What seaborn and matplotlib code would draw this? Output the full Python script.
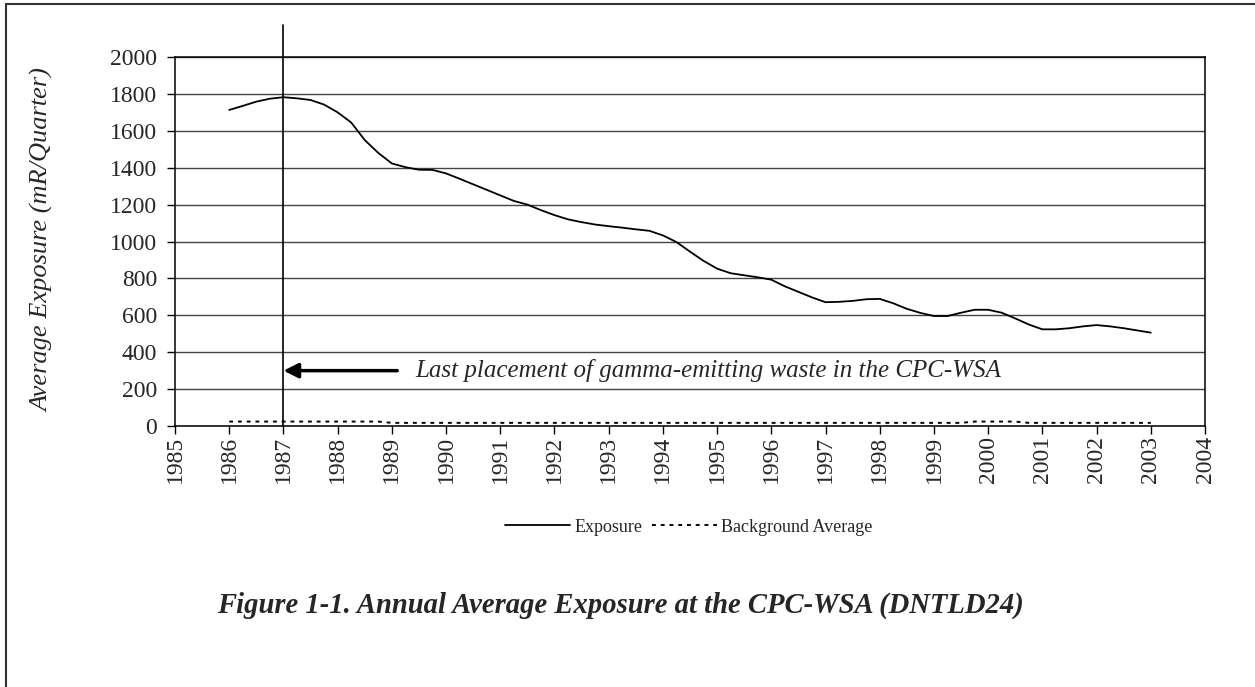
import numpy as np
import pandas as pd
import matplotlib
matplotlib.use("Agg")
import matplotlib.pyplot as plt
import seaborn as sns
from matplotlib.lines import Line2D

years = [1986.00, 1986.25, 1986.50, 1986.75, 1987.00, 1987.25, 1987.50, 1987.75,
         1988.00, 1988.25, 1988.50, 1988.75, 1989.00, 1989.25, 1989.50, 1989.75,
         1990.00, 1990.25, 1990.50, 1990.75, 1991.00, 1991.25, 1991.50, 1991.75,
         1992.00, 1992.25, 1992.50, 1992.75, 1993.00, 1993.25, 1993.50, 1993.75,
         1994.00, 1994.25, 1994.50, 1994.75, 1995.00, 1995.25, 1995.50, 1995.75,
         1996.00, 1996.25, 1996.50, 1996.75, 1997.00, 1997.25, 1997.50, 1997.75,
         1998.00, 1998.25, 1998.50, 1998.75, 1999.00, 1999.25, 1999.50, 1999.75,
         2000.00, 2000.25, 2000.50, 2000.75, 2001.00, 2001.25, 2001.50, 2001.75,
         2002.00, 2002.25, 2002.50, 2002.75, 2003.00]

exposure = [1713, 1735, 1758, 1774, 1782, 1776, 1767, 1742,
            1700, 1645, 1550, 1480, 1423, 1403, 1389, 1388,
            1369, 1340, 1310, 1280, 1250, 1220, 1200, 1170,
            1143, 1120, 1105, 1092, 1083, 1075, 1066, 1058,
            1033, 997, 945, 895, 853, 828, 817, 806,
            793, 757, 727, 697, 671, 673, 678, 687,
            689, 665, 635, 613, 596, 596, 614, 630,
            630, 614, 583, 550, 524, 524, 530, 540,
            547, 540, 530, 518, 506]

background = [24, 24, 24, 24, 24, 24, 24, 24,
              24, 24, 24, 24, 17, 17, 17, 17,
              17, 17, 17, 17, 17, 17, 17, 17,
              17, 17, 17, 17, 17, 17, 17, 17,
              17, 17, 17, 17, 17, 17, 17, 17,
              17, 17, 17, 17, 17, 17, 17, 17,
              17, 17, 17, 17, 17, 17, 17, 24,
              24, 24, 24, 17, 17, 17, 17, 17,
              17, 17, 17, 17, 17]

x_ticks = list(range(1985, 2005))
y_ticks = list(range(0, 2001, 200))
marker_year = 1987
annotation_text = "Last placement of gamma-emitting waste in the CPC-WSA"
y_label = "Average Exposure (mR/Quarter)"
title_text = "Figure 1-1. Annual Average Exposure at the CPC-WSA (DNTLD24)"

sns.set_theme(style="white")
plt.rcParams['font.family'] = ['Liberation Serif', 'DejaVu Serif']

df = pd.DataFrame({"Year": years, "Exposure": exposure, "Background Average": background})

W, H = 1255, 687
fig = plt.figure(figsize=(W / 100, H / 100), dpi=100)
ax = fig.add_axes([175 / W, 1 - 426 / H, (1205 - 175) / W, (426 - 57) / H])

sns.lineplot(data=df, x="Year", y="Exposure", ax=ax, color="black", lw=1.3, label="Exposure")
sns.lineplot(data=df, x="Year", y="Background Average", ax=ax, color="black", lw=1.4,
             linestyle=(0, (2, 2.5)), label="Background Average")

ax.set_xlim(1985, 2004)
ax.set_ylim(0, 2000)
ax.set_xticks(x_ticks)
ax.set_xticklabels([str(t) for t in x_ticks], rotation=90, fontsize=17)
ax.set_yticks(y_ticks)
ax.set_yticklabels([str(t) for t in y_ticks], fontsize=17)
ax.tick_params(axis='x', direction='out', length=6, width=1, color='black', pad=1, bottom=True)
ax.tick_params(axis='y', direction='out', length=6, width=1, color='black', pad=7, left=True)
ax.yaxis.grid(True, color='#444444', lw=1)
ax.xaxis.grid(False)
ax.set_axisbelow(True)
for s in ax.spines.values():
    s.set_color('black')
    s.set_linewidth(1.1)
ax.set_xlabel("")
ax.set_ylabel(y_label, fontsize=19, style='italic')
ax.yaxis.set_label_coords((54 - 175) / 1030, (426 - 240) / 369)

# vertical marker line (extends above plot)
ax.plot([marker_year, marker_year], [0, 2175], color='black', lw=1.2, clip_on=False)

# arrow annotation
ax.annotate("", xy=(marker_year, 300), xytext=(1989.1, 300),
            arrowprops=dict(arrowstyle='-|>', color='black', lw=2.5, mutation_scale=22,
                            shrinkA=0, shrinkB=0))
ax.text(1989.43, 300, annotation_text, fontsize=18, style='italic', va='center', ha='left')

leg = ax.legend(loc='center', bbox_to_anchor=((689 - 175) / 1030, (426 - 527) / 369),
                ncol=2, frameon=False, fontsize=13, handlelength=3.6, columnspacing=0.5,
                handletextpad=0.25)

fig.text(620 / W, 1 - 605 / H, title_text, fontsize=20.6, fontweight='bold', style='italic',
         ha='center', va='center')

# figure border (left and top)
fig.add_artist(Line2D([6 / W, 6 / W], [0, 1 - 4 / H], transform=fig.transFigure, color='#333333', lw=1.5))
fig.add_artist(Line2D([6 / W, 1], [1 - 4 / H, 1 - 4 / H], transform=fig.transFigure, color='#333333', lw=1.5))

fig.savefig("out.png", dpi=100)
